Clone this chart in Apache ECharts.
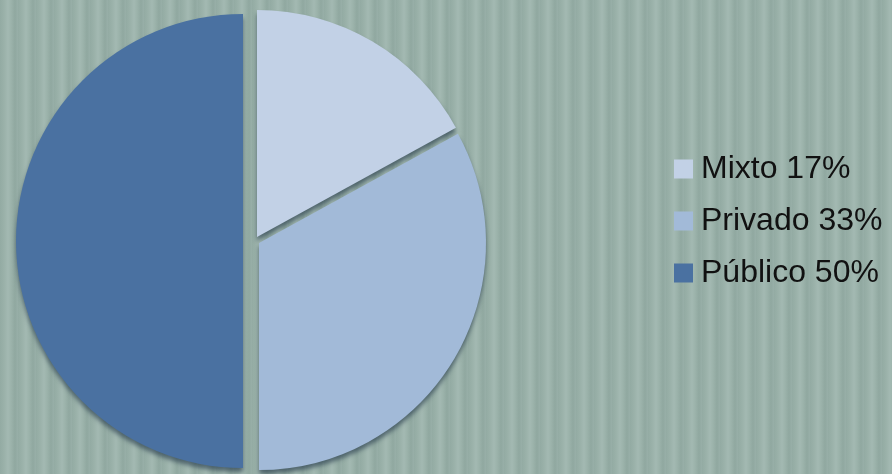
<!DOCTYPE html>
<html><head><meta charset="utf-8">
<script src="https://cdn.jsdelivr.net/npm/echarts@6/dist/echarts.min.js"></script>
<style>
html,body{margin:0;padding:0;}
body{width:892px;height:474px;overflow:hidden;
background-color:#9bb2aa;
background-image:repeating-linear-gradient(90deg,
 #93aba3 0px,#9ab1a9 4px,#a3b9b2 8px,#9cb3ab 11px,#90a8a0 15px,#98afa8 18px);
}
#c{width:892px;height:474px;}
</style></head>
<body><div id="c"></div>
<script>
const categories = ['Mixto', 'Privado', 'Público'];
const values = [17, 33, 50];
const colors = ['#c2d1e6', '#a2bad8', '#4a71a1'];
const centers = [[257, 237], [259, 243], [243, 241]];

const chart = echarts.init(document.getElementById('c'), null, {renderer: 'canvas'});

const series = categories.map((name, k) => ({
  type: 'pie',
  radius: 227,
  center: centers[k],
  startAngle: 90,
  clockwise: true,
  silent: true,
  animation: false,
  label: {show: false},
  labelLine: {show: false},
  emphasis: {disabled: true},
  data: categories.map((n, i) => ({
    name: n,
    value: values[i],
    itemStyle: i === k ? {
      color: colors[i],
      shadowColor: 'rgba(20,40,60,0.55)', shadowBlur: 4, shadowOffsetY: 4, shadowOffsetX: 0
    } : {color: 'rgba(0,0,0,0)', opacity: 0}
  }))
}));

chart.setOption({
  backgroundColor: 'transparent',
  legend: {
    orient: 'vertical',
    left: 674,
    top: 153,
    padding: 0,
    itemWidth: 19,
    itemHeight: 19,
    itemGap: 20,
    icon: 'rect',
    selectedMode: false,
    textStyle: {fontSize: 32, lineHeight: 32, color: '#111', fontFamily: 'Liberation Sans, Arial, sans-serif', padding: [0,0,0,3]},
    formatter: function (name) {
      const i = categories.indexOf(name);
      return name + ' ' + values[i] + '%';
    },
    data: categories.map((n, i) => ({name: n, itemStyle: {color: colors[i], opacity: 1, shadowBlur: 0}}))
  },
  series: series
});
</script>
</body></html>
